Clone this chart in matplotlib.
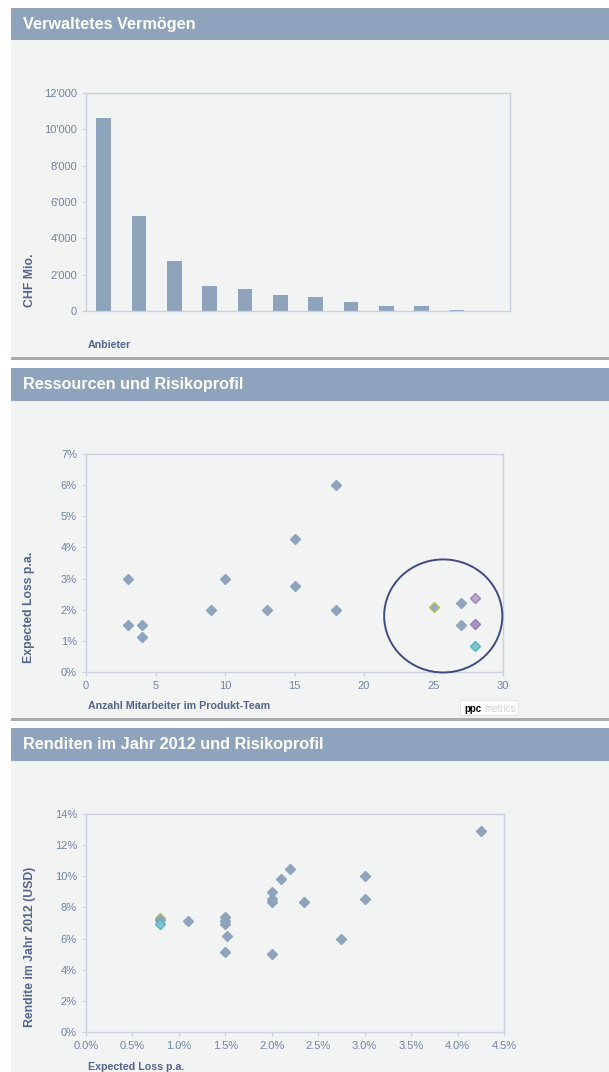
import numpy as np
import matplotlib.pyplot as plt
from matplotlib.patches import Rectangle, Ellipse
from matplotlib.ticker import FuncFormatter, MultipleLocator

plt.rcParams['font.family'] = ['Liberation Sans', 'DejaVu Sans']

# --- data -------------------------------------------------------------
# Verwaltetes Vermoegen (CHF Mio.) per Anbieter, sorted descending
aum_values = [10650, 5250, 2750, 1360, 1210, 880, 760, 500, 300, 290, 60, 0]

# Ressourcen und Risikoprofil
team_size = [3, 3, 4, 4, 9, 10, 13, 15, 15, 18, 18, 25, 27, 27, 28, 28, 28]
exp_loss = [3.0, 1.5, 1.5, 1.12, 2.0, 3.0, 2.0, 4.27, 2.77, 6.0, 2.0,
            2.1, 2.22, 1.52, 2.37, 1.53, 0.82]

# Renditen im Jahr 2012 und Risikoprofil
loss_x = [0.8, 0.8, 0.8, 1.1, 1.5, 1.5, 1.5, 1.52, 1.5, 2.0, 2.0, 2.0,
          2.1, 2.2, 2.35, 2.0, 2.75, 3.0, 3.0, 4.25]
ret_2012 = [7.3, 7.2, 6.95, 7.15, 7.37, 7.15, 6.92, 6.18, 5.15, 8.98, 8.52,
            8.33, 9.83, 10.5, 8.33, 5.02, 5.97, 10.03, 8.55, 12.9]

# highlighted (coloured) points: index -> (face, edge)
hl_team = {11: ('#98a8c0', '#b4c45c'), 14: ('#b8aacb', '#a484b8'),
           15: ('#a596bd', '#9c7cb4'), 16: ('#80c4cc', '#58b4c0')}
hl_ret = {0: ('#98a8c0', '#b4c45c'), 2: ('#80c4cc', '#58b4c0')}

# --- styling ----------------------------------------------------------
W, H = 609, 1072
HEAD = '#8fa3bd'
BODY = '#f2f3f3'
BAR = '#8fa3bd'
MARK = '#8fa3bd'
FRAME = '#c9d2de'
TICK = '#7383a3'
LABEL = '#56648c'

fig = plt.figure(figsize=(W / 100, H / 100), dpi=100)
fig.patch.set_facecolor('white')


def px_rect(x0, y0, x1, y1, color, z=-10):
    fig.patches.append(Rectangle((x0 / W, 1 - y1 / H), (x1 - x0) / W, (y1 - y0) / H,
                                 transform=fig.transFigure, facecolor=color,
                                 edgecolor='none', zorder=z))


def panel(y_head, y_body, y_end, title, line=True):
    px_rect(11, y_head, W, y_body, HEAD)
    px_rect(11, y_body, W, y_end, BODY)
    if line:
        px_rect(11, y_end, W, y_end + 2.5, '#a9abad')
    fig.text(23 / W, 1 - (y_head + y_body) / 2 / H, title, color='white',
             fontsize=11.7, fontweight='bold', va='center', ha='left')


panel(8, 40, 357, 'Verwaltetes Vermögen')
panel(368, 401, 718, 'Ressourcen und Risikoprofil')
panel(728, 761, H + 5, 'Renditen im Jahr 2012 und Risikoprofil', line=False)


def make_ax(left, right, top, bottom):
    ax = fig.add_axes([left / W, 1 - bottom / H, (right - left) / W, (bottom - top) / H])
    ax.set_facecolor(BODY)
    for s in ax.spines.values():
        s.set_color(FRAME)
        s.set_linewidth(1.0)
    ax.tick_params(colors=FRAME, labelcolor=TICK, labelsize=8, length=3, width=0.8)
    return ax


def ylab(x, y, text):
    fig.text(x / W, 1 - y / H, text, rotation=90, color=LABEL, fontsize=8.8,
             fontweight='bold', ha='center', va='center')


def xlab(x, y, text):
    fig.text(x / W, 1 - y / H, text, color=LABEL, fontsize=7.7,
             fontweight='bold', ha='left', va='center')


# panel 1: bars
ax1 = make_ax(86, 510, 93, 311)
pos = np.arange(1, len(aum_values) + 1)
ax1.bar(pos, aum_values, width=0.42, color=BAR, zorder=2)
ax1.set_xlim(0.5, len(aum_values) + 0.5)
ax1.set_ylim(0, 12000)
ax1.yaxis.set_major_locator(MultipleLocator(2000))
ax1.yaxis.set_major_formatter(FuncFormatter(lambda v, p: f"{int(v):,}".replace(',', "'")))
ax1.set_xticks([])
ylab(30, 280, 'CHF Mio.')
xlab(88, 345, 'Anbieter')

# panel 2: scatter team size vs expected loss
ax2 = make_ax(86, 503, 454, 672)
for i, (x, y) in enumerate(zip(team_size, exp_loss)):
    fc, ec = hl_team.get(i, (MARK, MARK))
    ax2.plot(x, y, marker='D', ms=5, mfc=fc, mec=ec, mew=1.0, ls='none', zorder=3)
ax2.add_patch(Ellipse((25.7, 1.8), 8.5, 3.63, fill=False, edgecolor='#3f4b82',
                      linewidth=1.4, zorder=4, clip_on=False))
ax2.set_xlim(0, 30)
ax2.set_ylim(0, 7)
ax2.xaxis.set_major_locator(MultipleLocator(5))
ax2.yaxis.set_major_locator(MultipleLocator(1))
ax2.yaxis.set_major_formatter(FuncFormatter(lambda v, p: f"{v:.0f}%"))
ylab(29, 607, 'Expected Loss p.a.')
xlab(88, 706, 'Anzahl Mitarbeiter im Produkt-Team')

# logo
px_rect(460, 700, 519, 716, '#e2e4e6', z=1)
px_rect(461, 701, 518, 715, 'white', z=1)
fig.text(464 / W, 1 - 708.5 / H, 'ppc', fontsize=7, fontweight='bold', color='black',
         va='center', ha='left', zorder=2)
fig.text(484 / W, 1 - 708.5 / H, 'metrics', fontsize=7, color='#d0d3d8',
         va='center', ha='left', zorder=2)

# panel 3: scatter expected loss vs return
ax3 = make_ax(86, 504, 814, 1032)
for i, (x, y) in enumerate(zip(loss_x, ret_2012)):
    fc, ec = hl_ret.get(i, (MARK, MARK))
    ax3.plot(x, y, marker='D', ms=5, mfc=fc, mec=ec, mew=1.0, ls='none', zorder=3)
ax3.set_xlim(0, 4.5)
ax3.set_ylim(0, 14)
ax3.xaxis.set_major_locator(MultipleLocator(0.5))
ax3.yaxis.set_major_locator(MultipleLocator(2))
ax3.xaxis.set_major_formatter(FuncFormatter(lambda v, p: f"{v:.1f}%"))
ax3.yaxis.set_major_formatter(FuncFormatter(lambda v, p: f"{v:.0f}%"))
ylab(30, 947, 'Rendite im Jahr 2012 (USD)')
xlab(88, 1067, 'Expected Loss p.a.')

fig.savefig('out.png', dpi=100)
